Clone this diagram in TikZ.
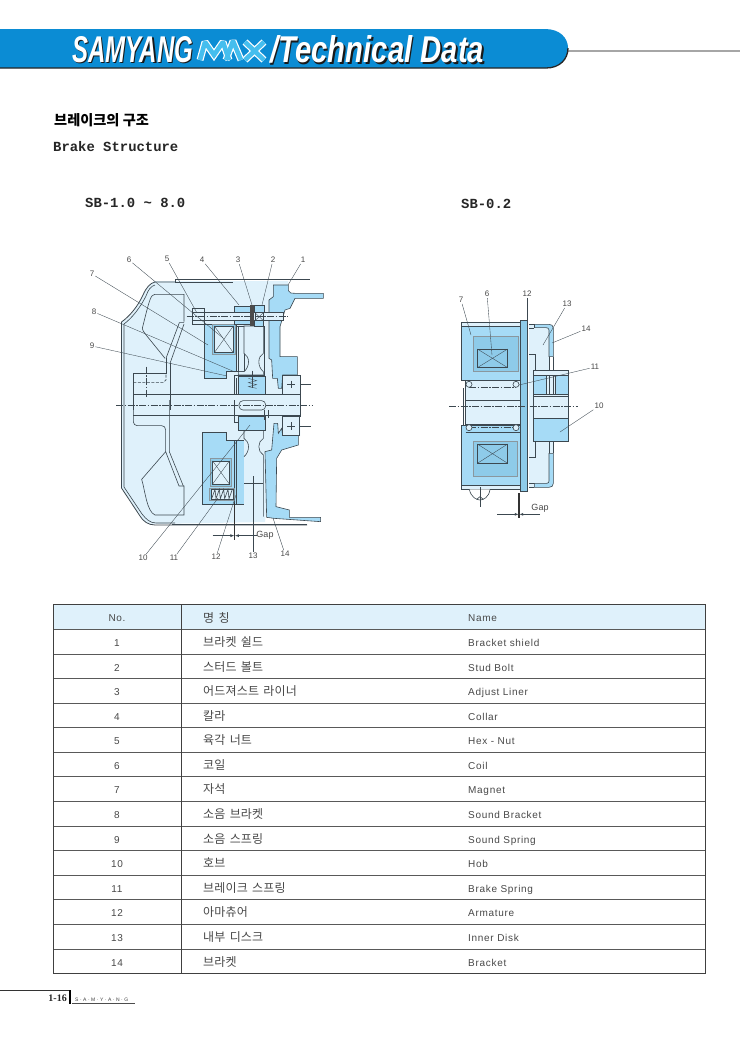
\documentclass[tikz,border=0pt]{standalone}
\usepackage{fontspec}
\usepackage{graphicx}
\setmainfont{Liberation Sans}
\newfontfamily\krf{Noto Sans CJK KR}
\newfontfamily\krt[LetterSpace=1.5,WordSpace=1.5]{Noto Sans CJK KR}
\newfontfamily\tabf[LetterSpace=7]{Liberation Sans}
\newfontfamily\monof{Liberation Mono}
\newfontfamily\serf{Liberation Serif}
\newfontfamily\tinyf[LetterSpace=30]{Liberation Sans}
\definecolor{barblue}{HTML}{0B8CD4}
\definecolor{lt}{HTML}{DFF1FB}
\definecolor{md}{HTML}{A6DBF6}
\definecolor{dk}{HTML}{8ECBE9}
\definecolor{ink}{HTML}{3C4850}
\definecolor{txt}{HTML}{484848}
\definecolor{edge}{HTML}{8A979E}
\definecolor{maxc}{HTML}{45BEEE}
\tikzset{
 Z/.style 2 args={shift={(#1,#2)},x=0.33333pt,y=-0.33333pt},
 ln/.style={draw=ink,line width=0.6pt},
 thin ln/.style={draw=ink,line width=0.35pt},
 blue/.style={fill=md,draw=ink,line width=0.6pt},
 mid/.style={fill=dk,draw=edge,line width=1pt},
 pale/.style={fill=lt,draw=ink,line width=0.6pt},
 lead/.style={draw=ink,line width=0.35pt},
 cl/.style={draw=ink,line width=0.5pt,dash pattern=on 7pt off 1.5pt on 1.5pt off 1.5pt},
 lab/.style={font=\fontsize{8}{8}\selectfont,text=txt,inner sep=1pt},
 rowline/.style={draw=black!65,line width=0.7pt},
 ktext/.style={font=\krt\fontsize{12}{12}\selectfont,text=txt,anchor=base west,inner sep=0pt},
 etext/.style={font=\tabf\fontsize{10}{10}\selectfont,text=txt,anchor=base west,inner sep=0pt},
 ntext/.style={font=\tabf\fontsize{10}{10}\selectfont,text=txt,anchor=base,inner sep=0pt},
 head/.style={font=\monof\bfseries\fontsize{13.9}{14}\selectfont,text=black!85,anchor=base west,inner sep=0pt},
 maxo/.style={draw=white,line width=7pt,miter limit=2},
 maxi/.style={draw=maxc,line width=4.6pt,miter limit=2},
}
\newcommand{\titlepiece}[6]{%
 \node[anchor=west,inner sep=0pt,text=black!90] at (#1+1.4,#2+1.4) {\resizebox{#3pt}{#4pt}{\bfseries\itshape\fontsize{36}{36}\selectfont #5}};
 \node[name=#6,anchor=west,inner sep=0pt,text=white] at (#1,#2) {\resizebox{#3pt}{#4pt}{\bfseries\itshape\fontsize{36}{36}\selectfont #5}};}
\begin{document}
\begin{tikzpicture}[x=1pt,y=-1pt]
\useasboundingbox (0,0) rectangle (740,1045);
\fill[white] (0,0) rectangle (740,1045);
% ---- banner
\draw[draw=black!35,line width=1.6pt] (566,50.7) -- (740,50.7);
\fill[barblue] (0,29) -- (545,29) .. controls (560,29) and (568,38) .. (568,48) .. controls (568,59) and (560,68) .. (546,68) -- (0,68) -- cycle;
\draw[draw=black!85,line width=1.3pt] (0,68) -- (546,68) .. controls (560,68) and (568,59) .. (568,48);
\titlepiece{72}{49.5}{121}{26}{SAMYANG}{tsam}
\draw[maxo] (200,60) -- (205,42) -- (214,55) -- (223,42) -- (229,60);
\draw[maxo] (226,60) -- (233,41) -- (241,60);
\draw[maxo] (245,42) -- (264,60) (264,42) -- (245,60);
\draw[maxi] (200,60) -- (205,42) -- (214,55) -- (223,42) -- (229,60);
\draw[maxi] (226,60) -- (233,41) -- (241,60);
\draw[maxi] (245,42) -- (264,60) (264,42) -- (245,60);
\titlepiece{270}{49.5}{214}{27}{/Technical Data}{ttec}
% ---- headings
\node[anchor=base west,inner sep=0pt,font=\krf\bfseries\fontsize{14.2}{14}\selectfont] (h1) at (54,125) {브레이크의 구조};
\node[head] (h2) at (53,151) {Brake Structure};
\node[head] (h3) at (85,207) {SB-1.0 \symbol{126} 8.0};
\node[head] (h4) at (461,208.5) {SB-0.2};
% ---- left diagram: housing
\fill[lt] (155,281) -- (288,281) -- (288,300) -- (275,300) -- (275,375) -- (300,375) -- (300,436) -- (275,436) -- (265,522) -- (153,524) .. controls (146,524) and (142,519) .. (140,515) -- (122,488) -- (122,322) .. controls (135,315) and (140,300) .. (146,290) .. controls (149,285) and (152,282) .. (155,281) -- cycle;
\draw[ln,line width=0.8pt] (175,282) -- (155,282) .. controls (150,283) and (146,288) .. (143,295) .. controls (138,306) and (130,316) .. (121.5,322) -- (121.5,488) -- (140,516) .. controls (143,521) and (148,525) .. (155,525) -- (307,525);
\draw[ln,line width=0.8pt] (175,282) -- (175,279.5) -- (310,279.5) (175,282) -- (233,282);
\draw[ln] (155,285) .. controls (151,286) and (148,290) .. (146,296) .. controls (140,308) and (132,318) .. (124,324) -- (124,487) -- (142,514) .. controls (146,519) and (150,523) .. (156,523) -- (175,523);
\draw[ln,line width=1pt] (172,524.5) -- (307,524.5);
\begin{scope}[Z={80}{250}]
 \draw[ln] (312,215) -- (312,133) -- (225,133) .. controls (212,133) and (208,150) .. (187,235) .. controls (188,245) and (195,250) .. (255,325);
 \draw[ln] (258,325) -- (298,218) -- (312,218) (270,340) -- (312,222);
 \draw[ln] (258,325) -- (258,370) -- (160,370) -- (160,480);
 \draw[ln] (270,340) -- (270,480);
 \draw[ln,dash pattern=on 3pt off 1.5pt] (160,397) -- (250,397) -- (258,390) -- (258,370);
 \draw[cl] (198,350) -- (198,440);
\end{scope}
\begin{scope}[Z={100}{400}]
 \draw[ln] (100,0) -- (100,65) .. controls (100,72) and (105,77) .. (112,77) -- (185,77) .. controls (192,77) and (197,82) .. (197,90) -- (197,155) -- (125,238) .. controls (135,270) and (140,335) .. (165,345) -- (252,345) -- (252,258) -- (237,258) -- (197,155);
 \draw[ln] (208,0) -- (208,155) -- (250,258);
\end{scope}
% shaft lines
\draw[ln] (133,394) -- (300,394) (133,415.7) -- (300,415.7);
% upper parts
\begin{scope}[Z={200}{250}]
 \path[blue] (220,105) -- (265,105) -- (265,122) .. controls (268,130) and (275,130) .. (285,130) -- (370,130) -- (370,145) -- (285,145) -- (270,175) -- (255,180) -- (240,230) -- (240,320) -- (292,320) -- (292,375) -- (248,375) -- (245,415) -- (235,415) -- (232,385) -- (218,385) -- (215,330) -- (207,325) -- (207,150) -- (220,140) -- cycle;
 \path[blue] (14,222) -- (108,222) -- (108,365) -- (80,365) -- (80,385) -- (14,385) -- cycle;
 \path[mid] (38,222) rectangle (105,312);
 \path[pale] (43,228) rectangle (100,308);
 \draw[thin ln] (43,228) -- (100,308) (100,228) -- (43,308);
 % disc
 \path[pale] (110,228) rectangle (132,365);
 \path[pale] (132,228) -- (190,228) -- (190,310) .. controls (172,320) and (172,350) .. (190,365) -- (190,375) -- (115,375) -- (115,365) -- (132,365) .. controls (150,350) and (150,320) .. (132,310) -- cycle;
 \draw[ln] (115,232) -- (115,365) (193,228) -- (193,430);
 % hub
 \path[blue] (115,380) rectangle (195,432);
 \draw[ln] (103,375) -- (195,375) (103,375) -- (103,432) (110,385) -- (110,432);
 \draw[thin ln] (145,385) -- (170,392) -- (145,398) -- (170,404) -- (145,410) -- (170,415);
 \draw[thin ln] (157,362) -- (157,415);
 % + box
 \path[pale] (248,375) rectangle (300,432);
 \draw[thin ln] (262,403) -- (284,403) (273,392) -- (273,414) (300,403) -- (333,403);
 % bolt
 \path[pale] (14,188) rectangle (250,212);
 \path[blue] (103,168) rectangle (150,188);
 \path[blue] (103,212) rectangle (150,222);
 \path[blue] (163,165) rectangle (193,188);
 \path[blue] (163,212) rectangle (190,228);
 \fill[black!70] (150,165) rectangle (163,227);
 \draw[ln] (165,188) rectangle (190,212);
 \draw[thin ln] (165,188) -- (190,212) (190,188) -- (165,212);
 \draw[ln] (-22,175) rectangle (14,222);
 \draw[thin ln] (-22,188) -- (14,188) (-22,212) -- (14,212);
 \draw[cl] (-40,200) -- (262,200);
\end{scope}
% lower parts
\begin{scope}[Z={200}{400}]
 \path[blue] (8,97) -- (80,97) -- (80,122) -- (132,122) -- (132,312) -- (8,312) -- cycle;
 \draw[ln] (103,122) -- (103,312) (110,122) -- (110,312);
 \path[mid] (30,176) rectangle (95,258);
 \path[pale] (38,183) rectangle (88,252);
 \draw[thin ln] (38,183) -- (88,252) (88,183) -- (38,252);
 \path[mid] (28,264) rectangle (103,302);
 \path[pale] (33,268) rectangle (100,298);
 \draw[ln] (35,296) -- (45,268) -- (48,296) -- (58,268) -- (61,296) -- (71,268) -- (74,296) -- (84,268) -- (87,296) -- (97,268);
 % disc
 \fill[lt] (132,92) rectangle (190,350);
 \draw[ln] (132,92) -- (132,115) .. controls (150,125) and (150,155) .. (132,170);
 \draw[ln] (190,92) -- (190,115) .. controls (172,125) and (172,155) .. (190,165) -- (190,350);
 \draw[ln] (132,250) -- (190,250);
 % hub
 \path[blue] (115,50) rectangle (195,92);
 \draw[ln] (103,0) -- (103,68) -- (115,68);
 % bracket
 \path[blue] (222,70) -- (233,70) -- (235,100) -- (245,85) -- (248,107) -- (295,107) -- (295,135) -- (245,150) -- (230,175) -- (228,320) -- (268,330) -- (268,352) -- (362,352) -- (362,365) -- (222,355) -- (200,352) -- (195,155) -- (215,150) -- cycle;
 % + box
 \path[pale] (248,50) rectangle (298,107);
 \draw[thin ln] (262,78) -- (284,78) (273,67) -- (273,89) (298,78) -- (333,78);
 % key
 \draw[ln,fill=lt,rounded corners=4pt] (117,2) rectangle (197,30);
 \draw[ln] (193,30) -- (193,60) (205,30) -- (205,55);
\end{scope}
\draw[ln] (300,394) -- (300,417);
% centreline
\draw[cl] (116,405.5) -- (313,405.5);
% gap left
\begin{scope}[Z={200}{400}]
 \draw[line width=1.2pt,draw=black!80] (104,310) -- (104,420);
 \draw[thin ln,-latex] (38,407) -- (103,407);
 \draw[thin ln,-latex] (170,407) -- (105,407);
\end{scope}
\node[lab,font=\fontsize{9}{9}\selectfont] (gapL) at (265,535.5) {Gap};
% ---- right diagram
\begin{scope}[Z={445}{285}]
 \path[pale] (48,112) rectangle (225,125);
 \path[blue] (48,125) rectangle (225,285);
 \path[mid] (85,153) rectangle (220,258);
 \path[fill=dk,draw=ink,line width=0.6pt] (97,192) rectangle (188,248);
 \draw[thin ln] (97,192) -- (188,248) (188,192) -- (97,248);
 \path[pale] (62,285) rectangle (225,375);
 \draw[ln] (55,310) -- (55,375);
 \path[fill=lt] (253,118) rectangle (312,375);
 \path[blue] (268,118) -- (312,118) .. controls (320,118) and (325,122) .. (325,130) -- (325,215) -- (312,215) -- (312,135) .. controls (312,130) and (308,128) .. (303,128) -- (268,128) -- cycle;
 \draw[ln] (253,208) -- (270,208) -- (270,255) (253,118) -- (268,118) (253,130) -- (268,130) (268,118) -- (268,130);
 \draw[ln] (312,215) -- (312,255) (325,215) -- (325,255);
 \path[pale] (265,255) rectangle (370,375);
 \path[blue] (265,272) rectangle (370,327);
 \path[pale] (305,272) rectangle (332,327);
 \draw[ln] (312,272) -- (312,327) (325,272) -- (325,327) (265,335) -- (370,335);
 \draw[cl] (72,308) -- (213,308);
 \draw[ln,fill=lt] (72,298) circle[radius=9];
 \draw[ln,fill=lt] (213,298) circle[radius=9];
\end{scope}
\begin{scope}[Z={445}{400}]
 \path[pale] (62,0) rectangle (225,75);
 \path[blue] (48,75) rectangle (225,255);
 \path[mid] (85,123) rectangle (218,228);
 \path[fill=dk,draw=ink,line width=0.6pt] (97,132) rectangle (188,190);
 \draw[thin ln] (97,132) -- (188,190) (188,132) -- (97,190);
 \path[pale] (48,255) rectangle (225,268);
 \fill[lt] (253,0) rectangle (312,262);
 \draw[ln] (253,173) -- (270,173) -- (270,125);
 \fill[lt] (312,125) rectangle (325,160);
 \draw[ln] (312,125) -- (312,160) (325,125) -- (325,160);
 \path[blue] (312,160) -- (325,160) -- (325,250) .. controls (325,258) and (320,262) .. (312,262) -- (268,262) -- (268,250) -- (305,250) .. controls (310,250) and (312,247) .. (312,243) -- cycle;
 \draw[ln] (253,250) -- (268,250) (253,262) -- (268,262);
 \path[pale] (265,-10) rectangle (370,55);
 \path[blue] (265,55) rectangle (370,125);
 \draw[ln] (62,0) -- (62,75);
 \draw[ln] (55,0) -- (55,75);
 \draw[ln] (62,72) -- (225,72);
 \draw[ln] (62,97) -- (225,97);
 \draw[cl] (72,83) -- (213,83);
 \draw[ln,fill=lt] (72,83) circle[radius=9];
 \draw[ln,fill=lt] (213,83) circle[radius=9];
 \draw[ln,fill=white] (73,268) .. controls (78,292) and (95,300) .. (105,300) .. controls (115,300) and (132,292) .. (135,268);
 \draw[ln] (95,298) -- (105,290) -- (115,298);
 \draw[thin ln] (105,262) -- (105,322);
 \draw[line width=1.2pt,draw=black!80] (222,280) -- (222,355);
 \draw[thin ln,-latex] (157,343) -- (221,343);
 \draw[thin ln,-latex] (285,343) -- (223,343);
\end{scope}
\path[fill=dk,draw=ink,line width=0.6pt] (520,320) rectangle (527.7,491);
\draw[cl] (449,406.3) -- (578,406.3);
\node[lab,font=\fontsize{9}{9}\selectfont] (gapR) at (540,508) {Gap};
% ---- labels and leaders, left
\foreach \nm/\lx/\ly/\ex/\ey in {
 6/129/260/223/338, 5/167/259/197/313, 4/202/260/239/305, 3/238/260/252/305,
 2/273/260/262/305, 1/303/260/288/285, 7/92/274/208/345, 8/94/312/235/372,
 9/92/346/227/376, 10/143/558/250/425, 11/174/558/218/498, 12/216/557/236/495,
 13/253/556/253/476, 14/285/554/273/518}{
 \node[lab] (LL\nm) at (\lx,\ly) {\nm};
 \coordinate (LE\nm) at (\ex,\ey);
 \draw[lead] (LL\nm) -- (LE\nm);
}
% ---- labels and leaders, right
\foreach \nm/\lx/\ly/\ex/\ey in {
 7/461/300/471/335, 6/487/294/492/355, 12/527/294/527/322, 13/567/304/543/345,
 14/586/329/552/343, 11/595/367/519/385, 10/599/406/560/432}{
 \node[lab] (RL\nm) at (\lx,\ly) {\nm};
 \coordinate (RE\nm) at (\ex,\ey);
 \draw[lead] (RL\nm) -- (RE\nm);
}
% ---- table
\fill[lt] (53,604) rectangle (705,629.3);
\foreach \i in {0,...,13}{
 \coordinate (ra\i) at (53,629.3+24.58*\i);
 \coordinate (rb\i) at (705,629.3+24.58*\i);
 \draw[rowline] (ra\i) -- (rb\i);
}
\draw[draw=black!75,line width=0.8pt] (53,604) rectangle (705,973.4);
\coordinate (ct) at (181.5,604);
\coordinate (cb) at (181.5,973.4);
\draw[draw=black!75,line width=0.7pt] (ct) -- (cb);
\node[ntext] (hn) at (117,621.5) {No.};
\node[ktext] (hk) at (203,622) {명 칭};
\node[etext] (he) at (468,621.5) {Name};
\foreach \n/\k/\e [count=\c from 0] in {
 1/브라켓 쉴드/Bracket shield,
 2/스터드 볼트/Stud Bolt,
 3/어드져스트 라이너/Adjust Liner,
 4/칼라/Collar,
 5/육각 너트/Hex - Nut,
 6/코일/Coil,
 7/자석/Magnet,
 8/소음 브라켓/Sound Bracket,
 9/소음 스프링/Sound Spring,
 10/호브/Hob,
 11/브레이크 스프링/Brake Spring,
 12/아마츄어/Armature,
 13/내부 디스크/Inner Disk,
 14/브라켓/Bracket}{
 \node[ntext] (tn\n) at (117,646.5+24.58*\c) {\n};
 \node[ktext] (tk\n) at (203,646.5+24.58*\c) {\k};
 \node[etext] (te\n) at (468,646.5+24.58*\c) {\e};
}
% ---- footer
\draw[draw=black!80,line width=0.5pt] (0,990) -- (70,990);
\draw[draw=black,line width=2pt] (70,990) -- (70,1004);
\node[anchor=base east,inner sep=0pt,font=\serf\bfseries\fontsize{10}{10}\selectfont,text=black!85] (pg) at (67,1001) {1-16};
\node[anchor=base west,inner sep=0pt,font=\tinyf\fontsize{5}{5}\selectfont,text=black!75] (sy) at (75,1001) {S·A·M·Y·A·N·G};
\draw[draw=black!70,line width=0.5pt] (72,1003.5) -- (135,1003.5);
\end{tikzpicture}
\end{document}
